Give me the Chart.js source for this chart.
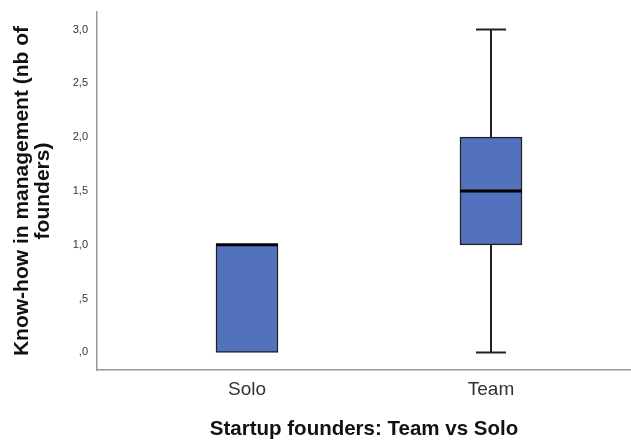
<!DOCTYPE html>
<html>
<head>
<meta charset="utf-8">
<script src="https://cdn.jsdelivr.net/npm/chart.js@4"></script>
<style>
  html, body { margin: 0; padding: 0; background: #fff; }
  #wrap { width: 631px; height: 445px; position: relative; }
</style>
</head>
<body>
<div id="wrap"><canvas id="boxChart"></canvas></div>
<script>
const categories = ['Solo', 'Team'];
const positions = [1, 2];
const minVals = [0, 0];
const q1Vals = [0, 1];
const medianVals = [1, 1.5];
const q3Vals = [1, 2];
const maxVals = [1, 3];
const yTicks = [0, 0.5, 1, 1.5, 2, 2.5, 3];

const BOX_FILL = '#5372bd';
const EDGE = '#222';
const FONT = 'Liberation Sans, Arial, sans-serif';

function formatTick(value) {
  // SPSS style: comma decimal, no leading zero
  let s = Number(value).toFixed(1).replace('.', ',');
  if (s.startsWith('0')) {
    s = s.slice(1);
  }
  return s;
}

const whiskerPlugin = {
  id: 'whiskers',
  afterDatasetsDraw(chart) {
    const { ctx, scales } = chart;
    const xs = scales.x;
    const ys = scales.y;
    ctx.save();
    positions.forEach((pos, i) => {
      const cx = xs.getPixelForValue(pos);
      const capHalf = 15;
      ctx.strokeStyle = EDGE;
      ctx.lineWidth = 2;
      if (maxVals[i] > q3Vals[i]) {
        ctx.beginPath();
        ctx.moveTo(cx, ys.getPixelForValue(q3Vals[i]));
        ctx.lineTo(cx, ys.getPixelForValue(maxVals[i]));
        ctx.moveTo(cx - capHalf, ys.getPixelForValue(maxVals[i]));
        ctx.lineTo(cx + capHalf, ys.getPixelForValue(maxVals[i]));
        ctx.stroke();
      }
      if (minVals[i] < q1Vals[i]) {
        ctx.beginPath();
        ctx.moveTo(cx, ys.getPixelForValue(q1Vals[i]));
        ctx.lineTo(cx, ys.getPixelForValue(minVals[i]));
        ctx.moveTo(cx - capHalf, ys.getPixelForValue(minVals[i]));
        ctx.lineTo(cx + capHalf, ys.getPixelForValue(minVals[i]));
        ctx.stroke();
      }
      // median line across the box
      const bar = chart.getDatasetMeta(0).data[i];
      const half = bar.width / 2;
      const my = ys.getPixelForValue(medianVals[i]);
      ctx.lineWidth = 3;
      ctx.strokeStyle = '#000';
      ctx.beginPath();
      ctx.moveTo(cx - half, my);
      ctx.lineTo(cx + half, my);
      ctx.stroke();
    });
    ctx.restore();
  }
};

const ctx = document.getElementById('boxChart');
new Chart(ctx, {
  type: 'bar',
  data: {
    datasets: [
      {
        label: 'IQR',
        data: positions.map((p, i) => ({ x: p, y: [q1Vals[i], q3Vals[i]] })),
        backgroundColor: BOX_FILL,
        borderColor: EDGE,
        borderWidth: 1.5,
        borderSkipped: false,
        barThickness: 62
      }
    ]
  },
  options: {
    responsive: true,
    maintainAspectRatio: false,
    animation: false,
    layout: {
      padding: { top: 12, right: 0, left: 0, bottom: 0 }
    },
    plugins: {
      legend: { display: false },
      tooltip: { enabled: false }
    },
    scales: {
      x: {
        type: 'linear',
        offset: false,
        min: 0.3852,
        max: 2.5738,
        afterFit: (scale) => {
          scale.height = 75;
          scale.paddingLeft = 0;
          scale.paddingRight = 0;
        },
        afterBuildTicks: (scale) => {
          scale.ticks = positions.map((p) => ({ value: p }));
        },
        ticks: {
          callback: (value) => categories[positions.indexOf(value)] || '',
          color: '#333',
          font: { family: FONT, size: 19 },
          padding: 8,
          autoSkip: false,
          maxRotation: 0
        },
        grid: { display: false, drawTicks: false, offset: false },
        border: { color: '#999', width: 1.5 },
        title: {
          display: true,
          text: 'Startup founders: Team vs Solo',
          color: '#111',
          font: { family: FONT, size: 20.5, weight: 'bold' },
          padding: { top: 0, bottom: 3 }
        }
      },
      y: {
        min: -0.163,
        max: 3.163,
        afterFit: (scale) => {
          scale.width = 97;
          scale.paddingTop = 0;
          scale.paddingBottom = 0;
        },
        afterBuildTicks: (scale) => {
          scale.ticks = yTicks.map((v) => ({ value: v }));
        },
        ticks: {
          callback: (value) => formatTick(value),
          color: '#333',
          font: { family: FONT, size: 11 },
          padding: 9
        },
        grid: { display: false, drawTicks: false },
        border: { color: '#999', width: 1.5 },
        title: {
          display: true,
          text: ['Know-how in management (nb of', 'founders)'],
          color: '#111',
          font: { family: FONT, size: 21, weight: 'bold', lineHeight: 1.0 },
          padding: { top: 12, bottom: 0 }
        }
      }
    }
  },
  plugins: [whiskerPlugin]
});
</script>
</body>
</html>
